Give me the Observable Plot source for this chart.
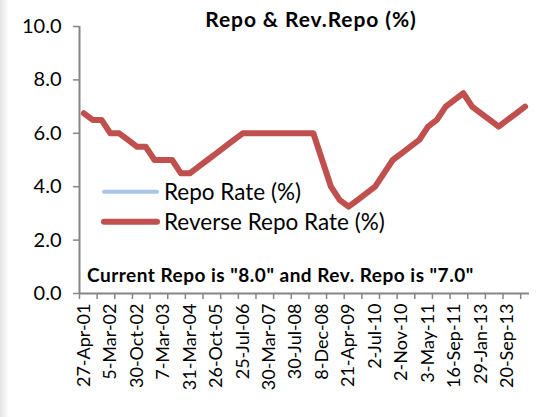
<!DOCTYPE html>
<html><head><meta charset="utf-8">
<script src="https://cdn.jsdelivr.net/npm/d3@7"></script>
<script src="https://cdn.jsdelivr.net/npm/@observablehq/plot@0.6"></script>
<style>
html,body{margin:0;padding:0;background:#fff;}
#chart{position:relative;width:539px;height:417px;background:linear-gradient(to right,#e4e4e4 0px,#ffffff 9px);}
#chart svg{display:block;font-family:Lato, sans-serif;}
</style></head><body><div id="chart"></div>
<script>
// Category labels (rate change dates) – every third one is shown on the axis
const dates = [
  "27-Apr-01","28-May-01","29-Oct-01","5-Mar-02","28-Mar-02","27-Jun-02","30-Oct-02","12-Nov-02",
  "3-Mar-03","7-Mar-03","19-Mar-03","25-Aug-03","31-Mar-04","27-Oct-04","29-Apr-05","26-Oct-05",
  "24-Jan-06","9-Jun-06","25-Jul-06","31-Oct-06","31-Jan-07","30-Mar-07","24-Jul-07","11-Jun-08",
  "30-Jul-08","20-Oct-08","3-Nov-08","8-Dec-08","5-Jan-09","5-Mar-09","21-Apr-09","19-Mar-10",
  "20-Apr-10","2-Jul-10","27-Jul-10","16-Sep-10","2-Nov-10","25-Jan-11","17-Mar-11","3-May-11",
  "16-Jun-11","26-Jul-11","16-Sep-11","25-Oct-11","17-Apr-12","29-Jan-13","19-Mar-13","3-May-13",
  "20-Sep-13","29-Oct-13","28-Jan-14"
];
const reverseRepo = [
  6.75,6.5,6.5,6.0,6.0,5.75,5.5,5.5,
  5.0,5.0,5.0,4.5,4.5,4.75,5.0,5.25,
  5.5,5.75,6.0,6.0,6.0,6.0,6.0,6.0,
  6.0,6.0,6.0,5.0,4.0,3.5,3.25,3.5,
  3.75,4.0,4.5,5.0,5.25,5.5,5.75,6.25,
  6.5,7.0,7.25,7.5,7.0,6.75,6.5,6.25,
  6.5,6.75,7.0
];
const yTicks = [0, 2, 4, 6, 8, 10];
const titleText = "Repo & Rev.Repo (%)";
const seriesNames = ["Repo Rate (%)", "Reverse Repo Rate (%)"];
const seriesColors = ["#a9c4e8", "#c0504d"];
const noteText = 'Current Repo is "8.0" and Rev. Repo is "7.0"';

const data = dates.map((d, i) => ({i, date: d, value: reverseRepo[i]}));
const labelIdx = dates.map((d, i) => i).filter(i => i % 3 === 0);
const boundaryTicks = d3.range(0, dates.length, 2).map(i => i - 0.5);
const axisGray = "#868686";

const chart = Plot.plot({
  width: 539, height: 417,
  marginLeft: 79, marginRight: 10, marginTop: 26, marginBottom: 124,
  style: {background: "transparent", fontFamily: "Lato, sans-serif", overflow: "visible"},
  x: {type: "linear", domain: [-0.5, dates.length - 0.5], axis: null},
  y: {domain: [0, 10], axis: null},
  marks: [
    Plot.axisY({ticks: yTicks, tickFormat: d => d.toFixed(1), tickSize: 6, tickPadding: 12,
      fontSize: 20, stroke: axisGray, strokeWidth: 1.5, fill: "#000", label: null}),
    Plot.axisX({ticks: boundaryTicks, tickFormat: () => "", tickSize: 6,
      stroke: axisGray, strokeWidth: 1.5, label: null}),
    Plot.axisX({ticks: labelIdx, tickFormat: i => dates[i], tickSize: 0, tickPadding: 10,
      tickRotate: -90, fontSize: 18, fill: "#000", label: null}),
    Plot.ruleX([-0.5], {y1: 0, y2: 10, stroke: axisGray, strokeWidth: 2}),
    Plot.ruleY([0], {stroke: axisGray, strokeWidth: 2}),
    Plot.line(data, {x: "i", y: "value", stroke: seriesColors[1], strokeWidth: 6,
      strokeLinejoin: "round", strokeLinecap: "round"})
  ]
});
document.getElementById("chart").appendChild(chart);

const svg = d3.select(chart);
const overlay = svg.append("g").attr("text-anchor", "start").attr("font-family", "Lato, sans-serif");
overlay.append("text").attr("x", 311).attr("y", 27).attr("text-anchor", "middle")
  .attr("font-weight", "bold").attr("font-size", 21).attr("letter-spacing", 0.9)
  .attr("fill", "#000").text(titleText);

[0, 1].forEach(k => {
  const yc = 191.7 + k * 30;
  overlay.append("line").attr("x1", 104).attr("x2", 157).attr("y1", yc).attr("y2", yc)
    .attr("stroke", seriesColors[k]).attr("stroke-width", k === 0 ? 4 : 6)
    .attr("stroke-linecap", "round");
  overlay.append("text").attr("x", 164).attr("y", yc + 8.5).attr("text-anchor", "start")
    .attr("font-size", 22.5).attr("fill", "#000")
    .text(seriesNames[k]);
});

overlay.append("text").attr("x", 87).attr("y", 281.7).attr("text-anchor", "start")
  .attr("font-weight", "bold").attr("font-size", 19).attr("letter-spacing", 0.5)
  .attr("fill", "#000").text(noteText);
</script></body></html>
